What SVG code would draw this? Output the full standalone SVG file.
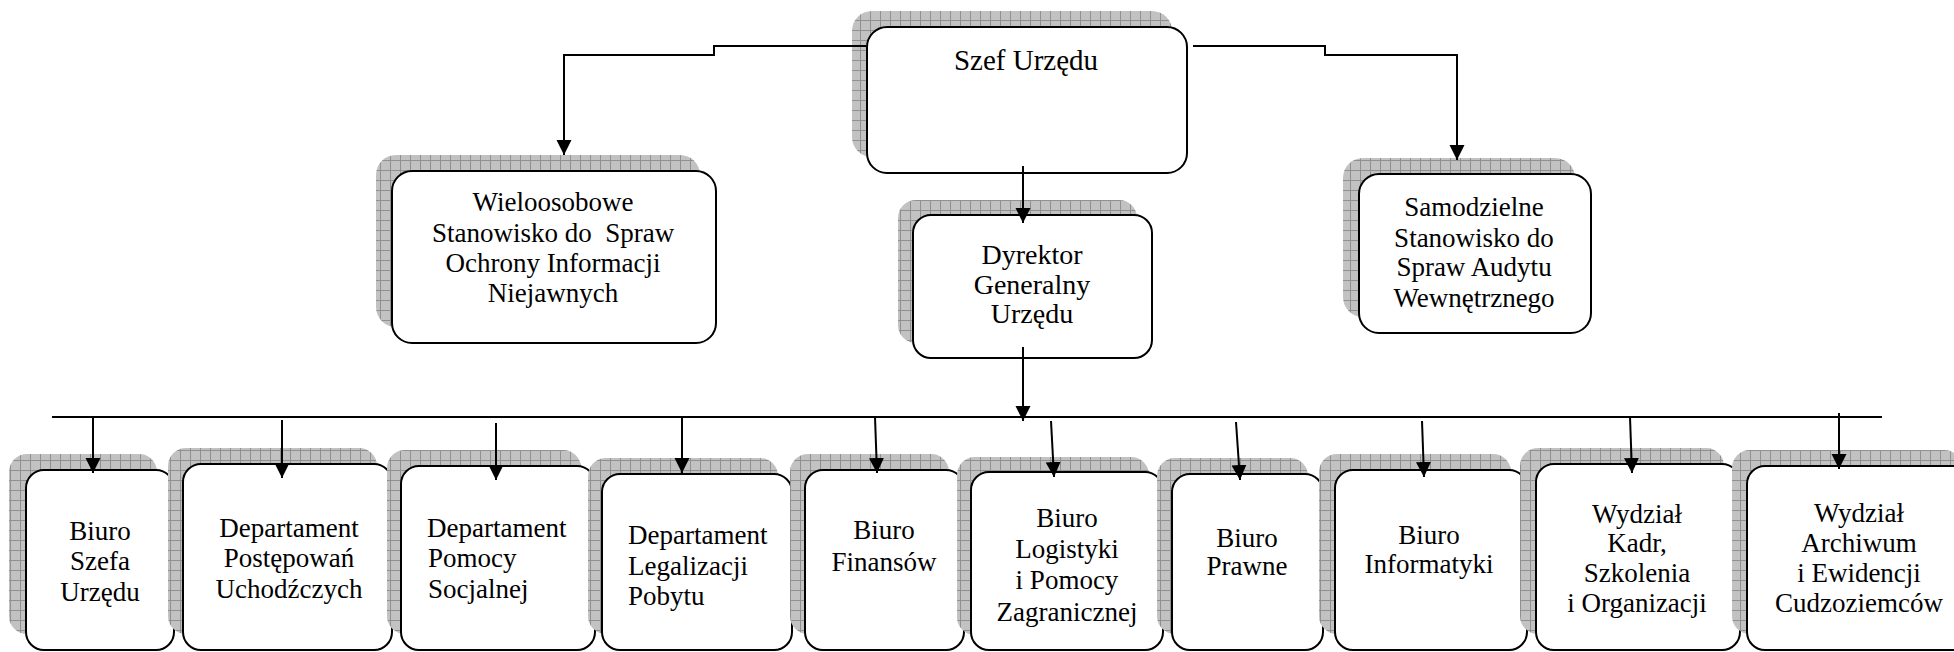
<svg xmlns="http://www.w3.org/2000/svg" width="1954" height="652" viewBox="0 0 1954 652">
<style>
.box{fill:#fff;stroke:#000;stroke-width:2}
.sh{fill:url(#grid);stroke:none}
.c{fill:none;stroke:#000;stroke-width:2}
</style>
<defs>
<pattern id="grid" width="10" height="10" patternUnits="userSpaceOnUse">
<rect width="10" height="10" fill="#c2c2c2"/>
<path d="M0,0.5H10M0.5,0V10" stroke="#909090" stroke-width="1"/>
</pattern>
<marker id="ah" markerUnits="userSpaceOnUse" markerWidth="16" markerHeight="16" refX="15" refY="7.5" orient="auto">
<path d="M0,0L15,7.5L0,15z" fill="#000"/>
</marker>
</defs>
<rect x="0" y="0" width="1954" height="652" fill="#fff"/>

<g id="szef">
<rect class="sh" x="852" y="11" width="320" height="146" rx="20"/>
<rect class="box" x="867" y="27" width="320" height="146" rx="20"/>
<text font-family="Liberation Serif" font-size="29" text-anchor="middle" x="1026" y="70">Szef Urzędu</text>
</g>

<g id="wieloosobowe">
<rect class="sh" x="376" y="155" width="324" height="172" rx="20"/>
<rect class="box" x="392" y="171" width="324" height="172" rx="20"/>
<text font-family="Liberation Serif" font-size="27" text-anchor="middle" x="553" y="211">Wieloosobowe</text>
<text font-family="Liberation Serif" font-size="27" text-anchor="middle" x="553" y="242" xml:space="preserve">Stanowisko do  Spraw</text>
<text font-family="Liberation Serif" font-size="27" text-anchor="middle" x="553" y="272">Ochrony Informacji</text>
<text font-family="Liberation Serif" font-size="27" text-anchor="middle" x="553" y="302">Niejawnych</text>
</g>

<g id="dyrektor">
<rect class="sh" x="898" y="200" width="239" height="143" rx="18"/>
<rect class="box" x="913" y="215" width="239" height="143" rx="18"/>
<text font-family="Liberation Serif" font-size="28" text-anchor="middle" x="1032" y="264">Dyrektor</text>
<text font-family="Liberation Serif" font-size="28" text-anchor="middle" x="1032" y="294">Generalny</text>
<text font-family="Liberation Serif" font-size="28" text-anchor="middle" x="1032" y="323">Urzędu</text>
</g>

<g id="samodzielne">
<rect class="sh" x="1343" y="158" width="232" height="159" rx="20"/>
<rect class="box" x="1359" y="174" width="232" height="159" rx="20"/>
<text font-family="Liberation Serif" font-size="27" text-anchor="middle" x="1474" y="216">Samodzielne</text>
<text font-family="Liberation Serif" font-size="27" text-anchor="middle" x="1474" y="247">Stanowisko do</text>
<text font-family="Liberation Serif" font-size="27" text-anchor="middle" x="1474" y="276">Spraw Audytu</text>
<text font-family="Liberation Serif" font-size="27" text-anchor="middle" x="1474" y="307">Wewnętrznego</text>
</g>

<g id="biuro-szefa">
<rect class="sh" x="9" y="454" width="148" height="180" rx="18"/>
<rect class="box" x="26" y="470" width="148" height="180" rx="18"/>
<text font-family="Liberation Serif" font-size="27" text-anchor="middle" x="100" y="540">Biuro</text>
<text font-family="Liberation Serif" font-size="27" text-anchor="middle" x="100" y="570">Szefa</text>
<text font-family="Liberation Serif" font-size="27" text-anchor="middle" x="100" y="601">Urzędu</text>
</g>

<g id="dep-postepowan">
<rect class="sh" x="168" y="448" width="209" height="186" rx="18"/>
<rect class="box" x="183" y="464" width="209" height="186" rx="18"/>
<text font-family="Liberation Serif" font-size="27" text-anchor="middle" x="289" y="537">Departament</text>
<text font-family="Liberation Serif" font-size="27" text-anchor="middle" x="289" y="567">Postępowań</text>
<text font-family="Liberation Serif" font-size="27" text-anchor="middle" x="289" y="598">Uchodźczych</text>
</g>

<g id="dep-pomocy">
<rect class="sh" x="387" y="450" width="194" height="184" rx="18"/>
<rect class="box" x="401" y="466" width="194" height="184" rx="18"/>
<text font-family="Liberation Serif" font-size="27" x="427" y="537">Departament</text>
<text font-family="Liberation Serif" font-size="27" x="428" y="567">Pomocy</text>
<text font-family="Liberation Serif" font-size="27" x="428" y="598">Socjalnej</text>
</g>

<g id="dep-legalizacji">
<rect class="sh" x="588" y="458" width="190" height="176" rx="18"/>
<rect class="box" x="602" y="474" width="190" height="176" rx="18"/>
<text font-family="Liberation Serif" font-size="27" x="628" y="544">Departament</text>
<text font-family="Liberation Serif" font-size="27" x="628" y="575">Legalizacji</text>
<text font-family="Liberation Serif" font-size="27" x="628" y="605">Pobytu</text>
</g>

<g id="biuro-finansow">
<rect class="sh" x="790" y="454" width="159" height="180" rx="18"/>
<rect class="box" x="805" y="470" width="159" height="180" rx="18"/>
<text font-family="Liberation Serif" font-size="27" text-anchor="middle" x="884" y="539">Biuro</text>
<text font-family="Liberation Serif" font-size="27" text-anchor="middle" x="884" y="571">Finansów</text>
</g>

<g id="biuro-logistyki">
<rect class="sh" x="957" y="457" width="192" height="178" rx="18"/>
<rect class="box" x="971" y="472" width="192" height="178" rx="18"/>
<text font-family="Liberation Serif" font-size="27" text-anchor="middle" x="1067" y="527">Biuro</text>
<text font-family="Liberation Serif" font-size="27" text-anchor="middle" x="1067" y="558">Logistyki</text>
<text font-family="Liberation Serif" font-size="27" text-anchor="middle" x="1067" y="589">i Pomocy</text>
<text font-family="Liberation Serif" font-size="27" text-anchor="middle" x="1067" y="621">Zagranicznej</text>
</g>

<g id="biuro-prawne">
<rect class="sh" x="1157" y="458" width="151" height="176" rx="18"/>
<rect class="box" x="1172" y="474" width="151" height="176" rx="18"/>
<text font-family="Liberation Serif" font-size="27" text-anchor="middle" x="1247" y="547">Biuro</text>
<text font-family="Liberation Serif" font-size="27" text-anchor="middle" x="1247" y="575">Prawne</text>
</g>

<g id="biuro-informatyki">
<rect class="sh" x="1319" y="454" width="192" height="180" rx="18"/>
<rect class="box" x="1335" y="470" width="192" height="180" rx="18"/>
<text font-family="Liberation Serif" font-size="27" text-anchor="middle" x="1429" y="544">Biuro</text>
<text font-family="Liberation Serif" font-size="27" text-anchor="middle" x="1429" y="573">Informatyki</text>
</g>

<g id="wydzial-kadr">
<rect class="sh" x="1520" y="448" width="204" height="186" rx="18"/>
<rect class="box" x="1536" y="464" width="204" height="186" rx="18"/>
<text font-family="Liberation Serif" font-size="27" text-anchor="middle" x="1637" y="523">Wydział</text>
<text font-family="Liberation Serif" font-size="27" text-anchor="middle" x="1637" y="552">Kadr,</text>
<text font-family="Liberation Serif" font-size="27" text-anchor="middle" x="1637" y="582">Szkolenia</text>
<text font-family="Liberation Serif" font-size="27" text-anchor="middle" x="1637" y="612">i Organizacji</text>
</g>

<g id="wydzial-archiwum">
<rect class="sh" x="1732" y="450" width="230" height="184" rx="18"/>
<rect class="box" x="1747" y="466" width="230" height="184" rx="18"/>
<text font-family="Liberation Serif" font-size="27" text-anchor="middle" x="1859" y="522">Wydział</text>
<text font-family="Liberation Serif" font-size="27" text-anchor="middle" x="1859" y="552">Archiwum</text>
<text font-family="Liberation Serif" font-size="27" text-anchor="middle" x="1859" y="582">i Ewidencji</text>
<text font-family="Liberation Serif" font-size="27" text-anchor="middle" x="1859" y="612">Cudzoziemców</text>
</g>

<g id="connectors">
<polyline class="c" points="866,46 714,46 714,55 564,55 564,155" marker-end="url(#ah)"/>
<polyline class="c" points="1193,46 1325,46 1325,55 1457,55 1457,160" marker-end="url(#ah)"/>
<line class="c" x1="1023" y1="166" x2="1023" y2="223" marker-end="url(#ah)"/>
<line class="c" x1="1023" y1="347" x2="1023" y2="421" marker-end="url(#ah)"/>
<line class="c" x1="52" y1="417" x2="1882" y2="417"/>
<line class="c" x1="93" y1="417" x2="93" y2="473" marker-end="url(#ah)"/>
<line class="c" x1="282" y1="420" x2="282" y2="478" marker-end="url(#ah)"/>
<line class="c" x1="496" y1="423" x2="496" y2="480" marker-end="url(#ah)"/>
<line class="c" x1="682" y1="417" x2="682" y2="473" marker-end="url(#ah)"/>
<line class="c" x1="875" y1="417" x2="877" y2="473" marker-end="url(#ah)"/>
<line class="c" x1="1051" y1="421" x2="1054" y2="477" marker-end="url(#ah)"/>
<line class="c" x1="1236" y1="422" x2="1240" y2="480" marker-end="url(#ah)"/>
<line class="c" x1="1422" y1="421" x2="1424" y2="477" marker-end="url(#ah)"/>
<line class="c" x1="1630" y1="417" x2="1632" y2="473" marker-end="url(#ah)"/>
<line class="c" x1="1839" y1="413" x2="1839" y2="469" marker-end="url(#ah)"/>
</g>
</svg>
